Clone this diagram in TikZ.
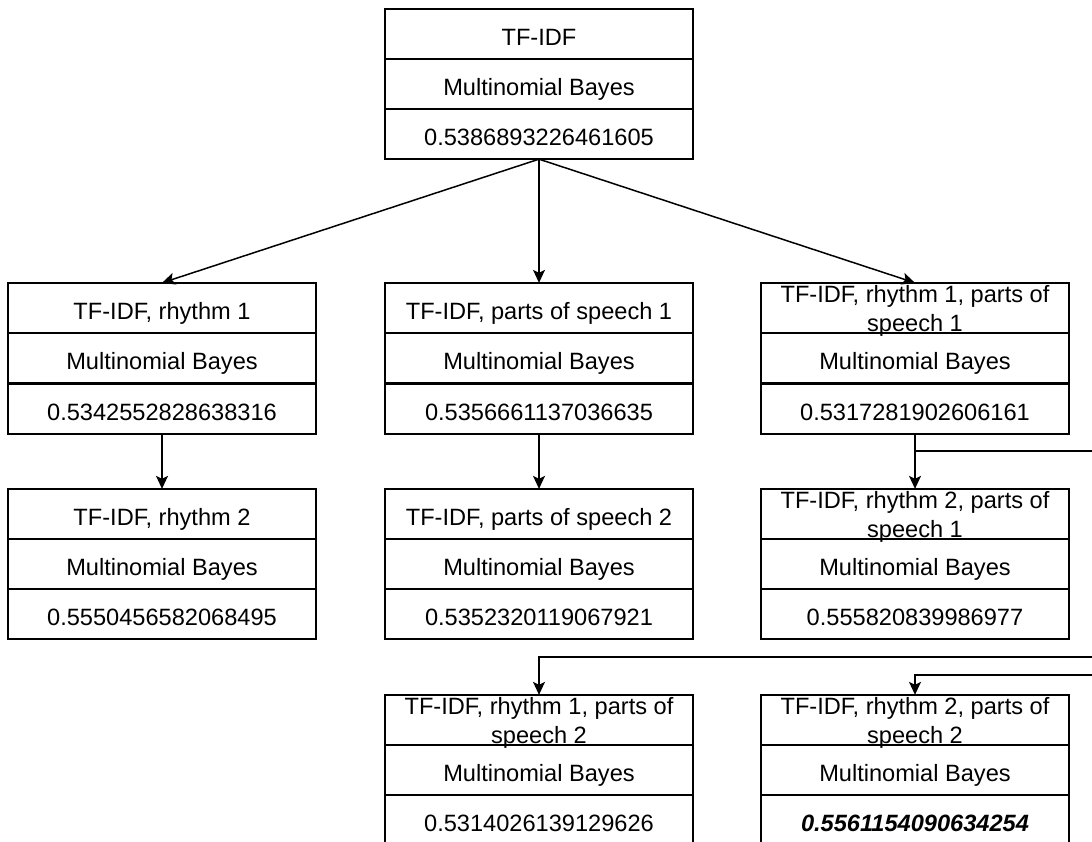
\documentclass[tikz,border=0pt]{standalone}
\usepackage{fontspec}
\setmainfont{Liberation Sans}
\usetikzlibrary{arrows.meta}
\tikzset{
  cell/.style={draw, line width=1.5pt, minimum width=308pt, minimum height=50.3pt,
    inner sep=0pt, outer sep=0pt, text height=22pt, text depth=0pt,
    font=\fontsize{23.6}{29}\selectfont},
  twoline/.style={align=center, text height=48pt, text depth=2pt},
  link/.style={line width=1.5pt, -{Stealth[length=13pt,width=12pt,inset=3pt]}},
}
\begin{document}
\begin{tikzpicture}[x=1pt,y=-1pt]
\useasboundingbox (0,0) rectangle (1092,841);
   \node[cell] at (539,34)  (root1) {TF-IDF};
   \node[cell] at (539,84)  (root2) {Multinomial Bayes};
   \node[cell] at (539,134) (root3) {0.5386893226461605};
    \node[cell] at (162,308)  (rha1) {TF-IDF, rhythm 1};
    \node[cell] at (162,358)  (rha2) {Multinomial Bayes};
    \node[cell] at (162,409)  (rha3) {0.5342552828638316};
    \node[cell] at (539,308)  (posa1) {TF-IDF, parts of speech 1};
    \node[cell] at (539,358)  (posa2) {Multinomial Bayes};
    \node[cell] at (539,409)  (posa3) {0.5356661137036635};
    \node[cell,twoline] at (915,308)  (rp11a) {TF-IDF, rhythm 1, parts of\\speech 1};
    \node[cell] at (915,358)  (rp11b) {Multinomial Bayes};
    \node[cell] at (915,409)  (rp11c) {0.5317281902606161};
    \node[cell] at (162,514)  (rhb1) {TF-IDF, rhythm 2};
    \node[cell] at (162,564)  (rhb2) {Multinomial Bayes};
    \node[cell] at (162,614)  (rhb3) {0.5550456582068495};
    \node[cell] at (539,514)  (posb1) {TF-IDF, parts of speech 2};
    \node[cell] at (539,564)  (posb2) {Multinomial Bayes};
    \node[cell] at (539,614)  (posb3) {0.5352320119067921};
    \node[cell,twoline] at (915,514)  (rp21a) {TF-IDF, rhythm 2, parts of\\speech 1};
    \node[cell] at (915,564)  (rp21b) {Multinomial Bayes};
    \node[cell] at (915,614)  (rp21c) {0.555820839986977};
    \node[cell,twoline] at (539,720)  (rp12a) {TF-IDF, rhythm 1, parts of\\speech 2};
    \node[cell] at (539,770)  (rp12b) {Multinomial Bayes};
    \node[cell] at (539,820)  (rp12c) {0.5314026139129626};
    \node[cell,twoline] at (915,720)  (rp22a) {TF-IDF, rhythm 2, parts of\\speech 2};
    \node[cell] at (915,770)  (rp22b) {Multinomial Bayes};
    \node[cell,font=\fontsize{23.6}{29}\selectfont\bfseries\itshape] at (915,820)  (rp22c) {0.5561154090634254};
   \coordinate (turn) at (1120,451);
   \coordinate (lane1) at (1120,657);
   \coordinate (lane2) at (1120,675);
    \draw[link] (root3.south) -- (rha1.north);
    \draw[link] (root3.south) -- (posa1.north);
    \draw[link] (root3.south) -- (rp11a.north);
    \draw[link] (rha3.south) -- (rhb1.north);
    \draw[link] (posa3.south) -- (posb1.north);
    \draw[link] (rp11c.south) -- (rp21a.north);
    \draw[link] (rp11c.south) |- (turn) |- (lane1) -| (rp12a.north);
    \draw[link] (rp11c.south) |- (turn) |- (lane2) -| (rp22a.north);
\end{tikzpicture}
\end{document}
